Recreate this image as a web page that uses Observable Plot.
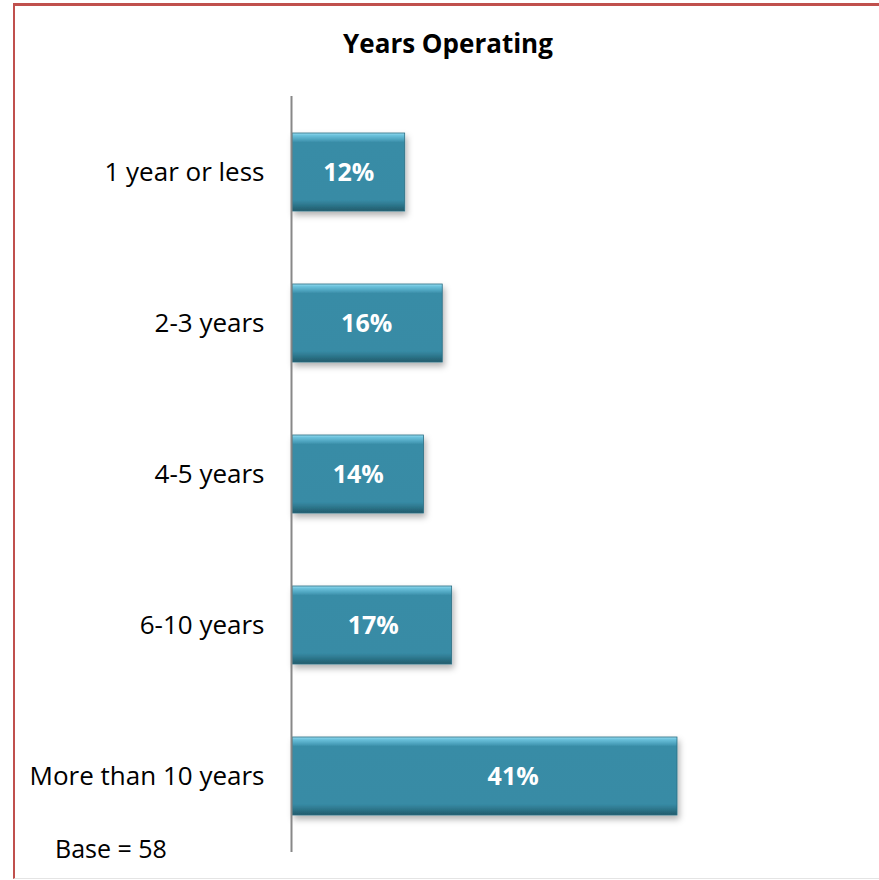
<!DOCTYPE html>
<html>
<head>
<meta charset="utf-8">
<script src="https://cdn.jsdelivr.net/npm/d3@7"></script>
<script src="https://cdn.jsdelivr.net/npm/@observablehq/plot@0.6"></script>
<style>
  html, body { margin: 0; padding: 0; background: #fff; }
  #wrap { position: relative; width: 879px; height: 880px; overflow: hidden; font-family: "Open Sans", sans-serif; }
  #frame { position: absolute; left: 13px; top: 3px; width: 900px; height: 876px; border-left: 2px solid #c0504d; border-top: 3px solid #c0504d; border-bottom: 1px solid #e4e4e4; box-sizing: border-box; }
  #title { position: absolute; left: 0; width: 896px; top: 25px; text-align: center; font-weight: bold; font-size: 26px; color: #000; }
  #base { position: absolute; left: 55px; top: 831px; font-size: 25px; color: #000; }
  #chart { position: absolute; left: 0; top: 0; }
</style>
</head>
<body>
<div id="wrap">
  <div id="frame"></div>
  <div id="chart"></div>
  <div id="title">Years Operating</div>
  <div id="base">Base = 58</div>
</div>
<script>
const categories = ["1 year or less", "2-3 years", "4-5 years", "6-10 years", "More than 10 years"];
const values = [12, 16, 14, 17, 41];
const valueLabels = ["12%", "16%", "14%", "17%", "41%"];
// where each value label sits along the value axis
const labelAt = [6, 7.9, 7, 8.6, 23.5];

const data = categories.map((c, i) => ({category: c, value: values[i], label: valueLabels[i], at: labelAt[i]}));

const chart = Plot.plot({
  width: 879,
  height: 880,
  marginTop: 96,
  marginBottom: 28,
  marginLeft: 292,
  marginRight: 202,
  style: {background: "transparent", fontFamily: "Open Sans, sans-serif"},
  x: {domain: [0, 41], axis: null},
  y: {domain: categories, paddingInner: 0.485, paddingOuter: 0.2425, label: null, axis: null},
  marks: [
    Plot.axisY({tickSize: 0, tickPadding: 28, fontSize: 26, fill: "#000", label: null}),
    Plot.barX(data, {x: "value", y: "category", fill: "url(#barGrad)", stroke: "#2a6e83", strokeWidth: 0.8, className: "bars"}),
    Plot.text(data, {x: "at", y: "category", text: "label", fill: "#fff", fontSize: 25, fontWeight: "bold"}),
    Plot.ruleX([0], {stroke: "#888", strokeWidth: 2, dx: -1})
  ]
});

const svg = d3.select(chart);
svg.selectAll("text").style("font-family", "Open Sans, sans-serif");
const defs = svg.insert("defs", ":first-child");
const g = defs.append("linearGradient").attr("id", "barGrad").attr("x1", 0).attr("y1", 0).attr("x2", 0).attr("y2", 1);
[["0%", "#9adcf1"], ["3%", "#6cc2dc"], ["9%", "#4aa0bb"], ["12%", "#388ca6"], ["86%", "#378ba5"], ["91%", "#2f7b92"], ["100%", "#225b6b"]]
  .forEach(([o, c]) => g.append("stop").attr("offset", o).attr("stop-color", c));
const f = defs.append("filter").attr("id", "shadow").attr("x", "-10%").attr("y", "-10%").attr("width", "130%").attr("height", "140%");
f.append("feDropShadow").attr("dx", 2).attr("dy", 4).attr("stdDeviation", 3).attr("flood-color", "#000").attr("flood-opacity", 0.3);
svg.selectAll(".bars").attr("filter", "url(#shadow)");

document.getElementById("chart").appendChild(chart);
</script>
</body>
</html>
